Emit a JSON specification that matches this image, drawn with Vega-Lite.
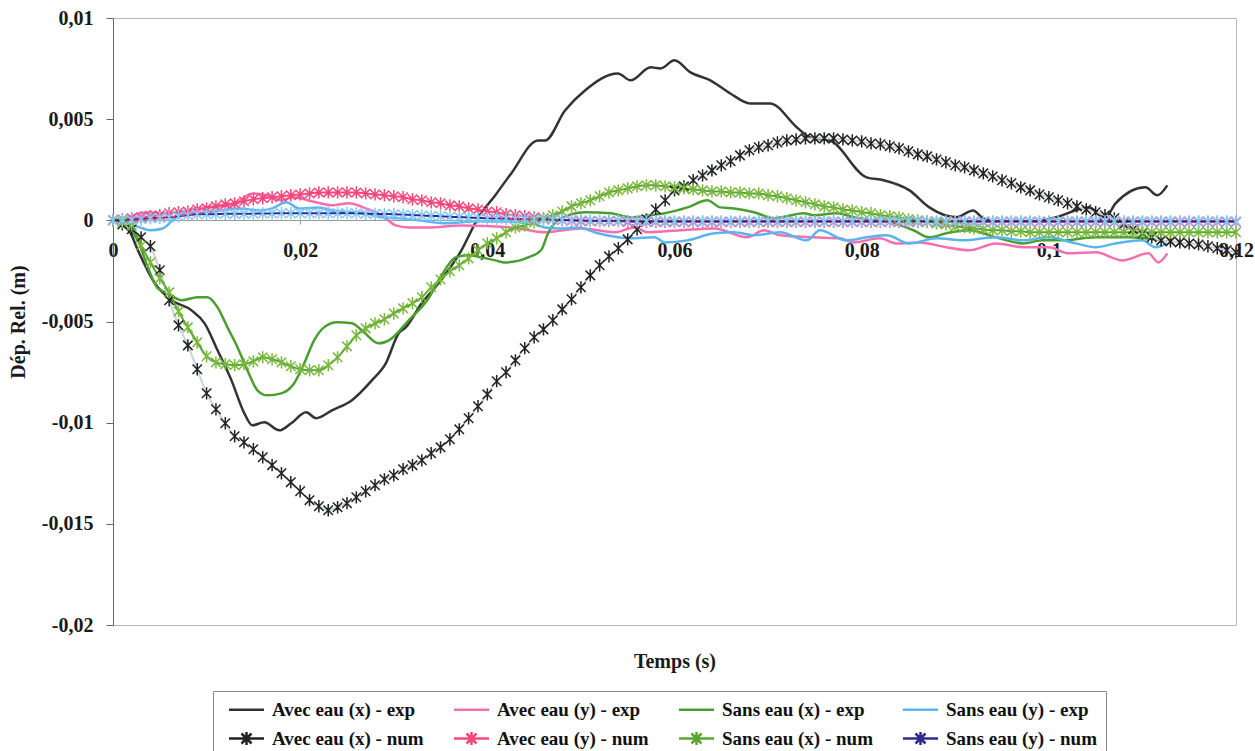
{
"$schema": "https://vega.github.io/schema/vega-lite/v6.json",
"width": 1123, "height": 607,
"autosize": {"type": "none"},
"padding": {"left": 113, "top": 18, "right": 19, "bottom": 126},
"background": "white",
"config": {
  "view": {"stroke": "#b8b8b8", "strokeWidth": 1},
  "axis": {"labelFont": "Liberation Serif", "labelFontSize": 20, "labelFontWeight": "bold", "labelColor": "#1a1a1a", "titleFont": "Liberation Serif", "titleFontSize": 20, "titleFontWeight": "bold", "titleColor": "#1a1a1a", "grid": false, "domainColor": "#777", "tickColor": "#777"}
},
"datasets": {
  "names": [
    {"code": "p", "series": "Avec eau (x) - exp"}, {"code": "q", "series": "Avec eau (y) - exp"},
    {"code": "r", "series": "Sans eau (x) - exp"}, {"code": "s", "series": "Sans eau (y) - exp"},
    {"code": "a", "series": "Avec eau (x) - num"}, {"code": "b", "series": "Avec eau (y) - num"},
    {"code": "c", "series": "Sans eau (x) - num"}, {"code": "d", "series": "Sans eau (y) - num"}
  ],
  "exp": [
    {"code":"p","t":0,"v":0},{"code":"p","t":0.00181,"v":-0.00059},{"code":"p","t":0.00266,"v":-0.00148},{"code":"p","t":0.00447,"v":-0.00311},{"code":"p","t":0.00628,"v":-0.00395},{"code":"p","t":0.0084,"v":-0.00445},{"code":"p","t":0.00979,"v":-0.00509},{"code":"p","t":0.01117,"v":-0.00642},{"code":"p","t":0.01266,"v":-0.00791},{"code":"p","t":0.01404,"v":-0.00954},{"code":"p","t":0.01489,"v":-0.01013},{"code":"p","t":0.01617,"v":-0.00998},{"code":"p","t":0.01777,"v":-0.01038},{"code":"p","t":0.01904,"v":-0.01003},{"code":"p","t":0.02064,"v":-0.00949},{"code":"p","t":0.0217,"v":-0.00978},{"code":"p","t":0.0234,"v":-0.00939},{"code":"p","t":0.02553,"v":-0.00889},{"code":"p","t":0.02766,"v":-0.00791},{"code":"p","t":0.02915,"v":-0.00707},{"code":"p","t":0.03053,"v":-0.00558},{"code":"p","t":0.03128,"v":-0.00529},{"code":"p","t":0.03298,"v":-0.0041},{"code":"p","t":0.03479,"v":-0.00311},{"code":"p","t":0.03723,"v":-0.00148},{"code":"p","t":0.03904,"v":0.00015},{"code":"p","t":0.04085,"v":0.00124},{"code":"p","t":0.04255,"v":0.00232},{"code":"p","t":0.04543,"v":0.00395},{"code":"p","t":0.04617,"v":0.00395},{"code":"p","t":0.0483,"v":0.00543},{"code":"p","t":0.05043,"v":0.00642},{"code":"p","t":0.05394,"v":0.00726},{"code":"p","t":0.05532,"v":0.00692},{"code":"p","t":0.05745,"v":0.00756},{"code":"p","t":0.05851,"v":0.00751},{"code":"p","t":0.06,"v":0.00791},{"code":"p","t":0.0617,"v":0.00731},{"code":"p","t":0.06383,"v":0.00692},{"code":"p","t":0.06596,"v":0.00627},{"code":"p","t":0.06809,"v":0.00578},{"code":"p","t":0.07021,"v":0.00578},{"code":"p","t":0.07309,"v":0.00459},{"code":"p","t":0.07447,"v":0.0041},{"code":"p","t":0.0766,"v":0.00395},{"code":"p","t":0.08053,"v":0.00212},{"code":"p","t":0.08234,"v":0.00198},{"code":"p","t":0.08511,"v":0.00148},{"code":"p","t":0.08723,"v":0.00064},{"code":"p","t":0.09011,"v":0.00015},{"code":"p","t":0.09191,"v":0.00049},{"code":"p","t":0.09298,"v":0.0001},{"code":"p","t":0.09436,"v":-0.00005},{"code":"p","t":0.09862,"v":-0.00005},{"code":"p","t":0.10074,"v":0.00015},{"code":"p","t":0.10426,"v":0.00064},{"code":"p","t":0.10606,"v":0.00015},{"code":"p","t":0.10713,"v":0.00084},{"code":"p","t":0.11032,"v":0.00163},{"code":"p","t":0.1116,"v":0.00124},{"code":"p","t":0.11266,"v":0.00173},
    {"code":"q","t":0,"v":0},{"code":"q","t":0.00128,"v":0.0001},{"code":"q","t":0.00287,"v":0.00035},{"code":"q","t":0.00394,"v":0.0004},{"code":"q","t":0.00574,"v":0.00035},{"code":"q","t":0.00787,"v":0.00049},{"code":"q","t":0.01,"v":0.00064},{"code":"q","t":0.01277,"v":0.00074},{"code":"q","t":0.01489,"v":0.00133},{"code":"q","t":0.01638,"v":0.00124},{"code":"q","t":0.01809,"v":0.00099},{"code":"q","t":0.01915,"v":0.00114},{"code":"q","t":0.0217,"v":0.00089},{"code":"q","t":0.0234,"v":0.00074},{"code":"q","t":0.02521,"v":0.00084},{"code":"q","t":0.02702,"v":0.00059},{"code":"q","t":0.02872,"v":0.00025},{"code":"q","t":0.03021,"v":-0.00025},{"code":"q","t":0.0316,"v":-0.00035},{"code":"q","t":0.03372,"v":-0.00035},{"code":"q","t":0.03723,"v":-0.00025},{"code":"q","t":0.04255,"v":-0.00035},{"code":"q","t":0.04617,"v":-0.00059},{"code":"q","t":0.05,"v":-0.0004},{"code":"q","t":0.05362,"v":-0.00059},{"code":"q","t":0.05574,"v":-0.00035},{"code":"q","t":0.05713,"v":-0.00059},{"code":"q","t":0.06064,"v":-0.00049},{"code":"q","t":0.06426,"v":-0.0004},{"code":"q","t":0.06777,"v":-0.00084},{"code":"q","t":0.06957,"v":-0.00049},{"code":"q","t":0.07128,"v":-0.00074},{"code":"q","t":0.07489,"v":-0.00084},{"code":"q","t":0.07766,"v":-0.00089},{"code":"q","t":0.07915,"v":-0.00109},{"code":"q","t":0.08191,"v":-0.00089},{"code":"q","t":0.08372,"v":-0.00114},{"code":"q","t":0.08617,"v":-0.00109},{"code":"q","t":0.08904,"v":-0.00133},{"code":"q","t":0.09149,"v":-0.00148},{"code":"q","t":0.09436,"v":-0.00114},{"code":"q","t":0.09723,"v":-0.00133},{"code":"q","t":0.1,"v":-0.00133},{"code":"q","t":0.10213,"v":-0.00163},{"code":"q","t":0.105,"v":-0.00158},{"code":"q","t":0.10787,"v":-0.00198},{"code":"q","t":0.11064,"v":-0.00163},{"code":"q","t":0.1117,"v":-0.00208},{"code":"q","t":0.11266,"v":-0.00163},
    {"code":"r","t":0,"v":0},{"code":"r","t":0.0016,"v":-0.0004},{"code":"r","t":0.00266,"v":-0.00099},{"code":"r","t":0.00372,"v":-0.00232},{"code":"r","t":0.00479,"v":-0.00336},{"code":"r","t":0.00585,"v":-0.0036},{"code":"r","t":0.00734,"v":-0.00395},{"code":"r","t":0.00904,"v":-0.0038},{"code":"r","t":0.0101,"v":-0.0038},{"code":"r","t":0.01117,"v":-0.0043},{"code":"r","t":0.01223,"v":-0.00529},{"code":"r","t":0.0133,"v":-0.00627},{"code":"r","t":0.01436,"v":-0.00741},{"code":"r","t":0.01543,"v":-0.0084},{"code":"r","t":0.01649,"v":-0.00865},{"code":"r","t":0.01798,"v":-0.00855},{"code":"r","t":0.01936,"v":-0.00805},{"code":"r","t":0.02043,"v":-0.00707},{"code":"r","t":0.02149,"v":-0.00593},{"code":"r","t":0.02255,"v":-0.00529},{"code":"r","t":0.02394,"v":-0.00504},{"code":"r","t":0.02553,"v":-0.00509},{"code":"r","t":0.02681,"v":-0.00553},{"code":"r","t":0.0284,"v":-0.00608},{"code":"r","t":0.02947,"v":-0.00593},{"code":"r","t":0.0316,"v":-0.00494},{"code":"r","t":0.03372,"v":-0.00385},{"code":"r","t":0.03511,"v":-0.00272},{"code":"r","t":0.0366,"v":-0.00183},{"code":"r","t":0.03798,"v":-0.00173},{"code":"r","t":0.03936,"v":-0.00183},{"code":"r","t":0.04085,"v":-0.00198},{"code":"r","t":0.04191,"v":-0.00208},{"code":"r","t":0.04436,"v":-0.00183},{"code":"r","t":0.04574,"v":-0.00148},{"code":"r","t":0.04649,"v":-0.00064},{"code":"r","t":0.04755,"v":0},{"code":"r","t":0.05043,"v":0.0004},{"code":"r","t":0.05319,"v":0.00035},{"code":"r","t":0.05532,"v":0.00015},{"code":"r","t":0.05745,"v":0.00025},{"code":"r","t":0.05894,"v":0.00035},{"code":"r","t":0.06138,"v":0.00064},{"code":"r","t":0.06351,"v":0.00099},{"code":"r","t":0.06489,"v":0.00064},{"code":"r","t":0.06638,"v":0.00059},{"code":"r","t":0.06851,"v":0.0004},{"code":"r","t":0.07064,"v":0.0001},{"code":"r","t":0.07383,"v":0.00035},{"code":"r","t":0.07489,"v":0.00025},{"code":"r","t":0.07734,"v":0.00035},{"code":"r","t":0.07915,"v":0.00015},{"code":"r","t":0.08128,"v":0},{"code":"r","t":0.0834,"v":-0.00015},{"code":"r","t":0.08553,"v":-0.00049},{"code":"r","t":0.08723,"v":-0.00084},{"code":"r","t":0.08904,"v":-0.00064},{"code":"r","t":0.09149,"v":-0.00049},{"code":"r","t":0.09436,"v":-0.00084},{"code":"r","t":0.09723,"v":-0.00114},{"code":"r","t":0.09936,"v":-0.00099},{"code":"r","t":0.10149,"v":-0.00099},{"code":"r","t":0.105,"v":-0.00084},{"code":"r","t":0.10851,"v":-0.00084},{"code":"r","t":0.11213,"v":-0.00099},
    {"code":"s","t":0,"v":0},{"code":"s","t":0.00149,"v":-0.00015},{"code":"s","t":0.00287,"v":-0.00035},{"code":"s","t":0.00394,"v":-0.00049},{"code":"s","t":0.00532,"v":-0.0004},{"code":"s","t":0.00638,"v":0},{"code":"s","t":0.00787,"v":0.00035},{"code":"s","t":0.00926,"v":0.00035},{"code":"s","t":0.01138,"v":0.00049},{"code":"s","t":0.01351,"v":0.00059},{"code":"s","t":0.01564,"v":0.00049},{"code":"s","t":0.01702,"v":0.00059},{"code":"s","t":0.01851,"v":0.00089},{"code":"s","t":0.01989,"v":0.00059},{"code":"s","t":0.02202,"v":0.00064},{"code":"s","t":0.0234,"v":0.00049},{"code":"s","t":0.02521,"v":0.0004},{"code":"s","t":0.02702,"v":0.00035},{"code":"s","t":0.02872,"v":0.00015},{"code":"s","t":0.03053,"v":0.0001},{"code":"s","t":0.03266,"v":0},{"code":"s","t":0.03553,"v":-0.00015},{"code":"s","t":0.03904,"v":-0.00005},{"code":"s","t":0.04436,"v":-0.0001},{"code":"s","t":0.04617,"v":-0.00035},{"code":"s","t":0.04787,"v":-0.0004},{"code":"s","t":0.04968,"v":-0.00035},{"code":"s","t":0.05181,"v":-0.00064},{"code":"s","t":0.05532,"v":-0.00089},{"code":"s","t":0.05787,"v":-0.00084},{"code":"s","t":0.05894,"v":-0.00109},{"code":"s","t":0.06138,"v":-0.00099},{"code":"s","t":0.06426,"v":-0.00064},{"code":"s","t":0.06638,"v":-0.00059},{"code":"s","t":0.06851,"v":-0.00074},{"code":"s","t":0.07128,"v":-0.00059},{"code":"s","t":0.07415,"v":-0.00099},{"code":"s","t":0.07553,"v":-0.00049},{"code":"s","t":0.0784,"v":-0.00099},{"code":"s","t":0.08053,"v":-0.00084},{"code":"s","t":0.08266,"v":-0.00074},{"code":"s","t":0.0851,"v":-0.00114},{"code":"s","t":0.08798,"v":-0.00089},{"code":"s","t":0.09085,"v":-0.00099},{"code":"s","t":0.09436,"v":-0.00084},{"code":"s","t":0.09723,"v":-0.00099},{"code":"s","t":0.1,"v":-0.00084},{"code":"s","t":0.10287,"v":-0.00114},{"code":"s","t":0.105,"v":-0.00133},{"code":"s","t":0.10713,"v":-0.00114},{"code":"s","t":0.11,"v":-0.00099},{"code":"s","t":0.11138,"v":-0.00133},{"code":"s","t":0.11266,"v":-0.00114}
  ],
  "num": [
    {"t":0,"a":0,"b":0,"c":0,"d":0},
    {"t":0.001,"a":-0.0002,"b":0.00005,"c":-0.0001,"d":0.00001},
    {"t":0.002,"a":-0.00044,"b":0.0001,"c":-0.00025,"d":0.00002},
    {"t":0.003,"a":-0.00084,"b":0.00015,"c":-0.00124,"d":0.00005},
    {"t":0.004,"a":-0.00128,"b":0.0002,"c":-0.00208,"d":0.0001},
    {"t":0.005,"a":-0.00247,"b":0.00025,"c":-0.00287,"d":0.00012},
    {"t":0.006,"a":-0.00395,"b":0.00035,"c":-0.00356,"d":0.00015},
    {"t":0.007,"a":-0.00519,"b":0.0004,"c":-0.0045,"d":0.0002},
    {"t":0.008,"a":-0.00618,"b":0.00044,"c":-0.00529,"d":0.00025},
    {"t":0.009,"a":-0.00736,"b":0.00054,"c":-0.00603,"d":0.0003},
    {"t":0.01,"a":-0.00855,"b":0.00059,"c":-0.00672,"d":0.0003},
    {"t":0.011,"a":-0.00934,"b":0.00069,"c":-0.00702,"d":0.00031},
    {"t":0.012,"a":-0.01003,"b":0.00079,"c":-0.00711,"d":0.00032},
    {"t":0.013,"a":-0.01067,"b":0.00084,"c":-0.00716,"d":0.00032},
    {"t":0.014,"a":-0.01097,"b":0.00094,"c":-0.00711,"d":0.00033},
    {"t":0.015,"a":-0.01131,"b":0.00104,"c":-0.00697,"d":0.00033},
    {"t":0.016,"a":-0.01171,"b":0.00109,"c":-0.00677,"d":0.00034},
    {"t":0.017,"a":-0.0121,"b":0.00114,"c":-0.00687,"d":0.00034},
    {"t":0.018,"a":-0.0125,"b":0.00119,"c":-0.00702,"d":0.00035},
    {"t":0.019,"a":-0.01294,"b":0.00124,"c":-0.00721,"d":0.00035},
    {"t":0.02,"a":-0.01339,"b":0.00128,"c":-0.00736,"d":0.00035},
    {"t":0.021,"a":-0.01383,"b":0.00133,"c":-0.00741,"d":0.00035},
    {"t":0.022,"a":-0.01413,"b":0.00138,"c":-0.00741,"d":0.00035},
    {"t":0.023,"a":-0.01433,"b":0.00138,"c":-0.00716,"d":0.00035},
    {"t":0.024,"a":-0.01418,"b":0.00138,"c":-0.00677,"d":0.00035},
    {"t":0.025,"a":-0.01398,"b":0.00138,"c":-0.00623,"d":0.00035},
    {"t":0.026,"a":-0.01369,"b":0.00138,"c":-0.00568,"d":0.00034},
    {"t":0.027,"a":-0.01339,"b":0.00133,"c":-0.00534,"d":0.00033},
    {"t":0.028,"a":-0.01309,"b":0.00128,"c":-0.00509,"d":0.00032},
    {"t":0.029,"a":-0.0128,"b":0.00124,"c":-0.00489,"d":0.00031},
    {"t":0.03,"a":-0.0126,"b":0.00119,"c":-0.0046,"d":0.0003},
    {"t":0.031,"a":-0.0123,"b":0.00114,"c":-0.00435,"d":0.00028},
    {"t":0.032,"a":-0.0121,"b":0.00104,"c":-0.0041,"d":0.00026},
    {"t":0.033,"a":-0.01186,"b":0.00099,"c":-0.0038,"d":0.00024},
    {"t":0.034,"a":-0.01151,"b":0.00089,"c":-0.00331,"d":0.00022},
    {"t":0.035,"a":-0.01122,"b":0.00084,"c":-0.00292,"d":0.0002},
    {"t":0.036,"a":-0.01082,"b":0.00074,"c":-0.00252,"d":0.00018},
    {"t":0.037,"a":-0.01033,"b":0.00069,"c":-0.00222,"d":0.00016},
    {"t":0.038,"a":-0.00978,"b":0.00059,"c":-0.00188,"d":0.00014},
    {"t":0.039,"a":-0.00919,"b":0.00054,"c":-0.00148,"d":0.00012},
    {"t":0.04,"a":-0.0086,"b":0.00044,"c":-0.00114,"d":0.0001},
    {"t":0.041,"a":-0.00795,"b":0.0004,"c":-0.00089,"d":0.00009},
    {"t":0.042,"a":-0.00751,"b":0.0003,"c":-0.00059,"d":0.00008},
    {"t":0.043,"a":-0.00692,"b":0.00025,"c":-0.00035,"d":0.00007},
    {"t":0.044,"a":-0.00632,"b":0.0002,"c":-0.00025,"d":0.00006},
    {"t":0.045,"a":-0.00578,"b":0.00015,"c":-0.0001,"d":0.00005},
    {"t":0.046,"a":-0.00539,"b":0.0001,"c":0.0001,"d":0.00004},
    {"t":0.047,"a":-0.00494,"b":0.00005,"c":0.00025,"d":0.00003},
    {"t":0.048,"a":-0.0044,"b":0,"c":0.00044,"d":0.00002},
    {"t":0.049,"a":-0.0039,"b":-0.00002,"c":0.00069,"d":0.00001},
    {"t":0.05,"a":-0.00331,"b":-0.00004,"c":0.00084,"d":0},
    {"t":0.051,"a":-0.00272,"b":-0.00004,"c":0.00099,"d":-0.00002},
    {"t":0.052,"a":-0.00222,"b":-0.00004,"c":0.00119,"d":-0.00002},
    {"t":0.053,"a":-0.00178,"b":-0.00004,"c":0.00138,"d":-0.00002},
    {"t":0.054,"a":-0.00138,"b":-0.00004,"c":0.00148,"d":-0.00002},
    {"t":0.055,"a":-0.00094,"b":-0.00008,"c":0.00158,"d":-0.00002},
    {"t":0.056,"a":-0.00044,"b":-0.00008,"c":0.00168,"d":-0.00004},
    {"t":0.057,"a":0.00005,"b":-0.00008,"c":0.00173,"d":-0.00004},
    {"t":0.058,"a":0.00054,"b":-0.00008,"c":0.00173,"d":-0.00004},
    {"t":0.059,"a":0.00099,"b":-0.00008,"c":0.00168,"d":-0.00004},
    {"t":0.06,"a":0.00148,"b":-0.00008,"c":0.00163,"d":-0.00005},
    {"t":0.061,"a":0.00168,"b":-0.00008,"c":0.00158,"d":-0.00005},
    {"t":0.062,"a":0.00198,"b":-0.00008,"c":0.00153,"d":-0.00005},
    {"t":0.063,"a":0.00222,"b":-0.00008,"c":0.00148,"d":-0.00005},
    {"t":0.064,"a":0.00247,"b":-0.00008,"c":0.00143,"d":-0.00005},
    {"t":0.065,"a":0.00272,"b":-0.00008,"c":0.00143,"d":-0.00005},
    {"t":0.066,"a":0.00292,"b":-0.00008,"c":0.00138,"d":-0.00005},
    {"t":0.067,"a":0.00321,"b":-0.00008,"c":0.00138,"d":-0.00005},
    {"t":0.068,"a":0.00346,"b":-0.00008,"c":0.00133,"d":-0.00005},
    {"t":0.069,"a":0.00361,"b":-0.00008,"c":0.00133,"d":-0.00005},
    {"t":0.07,"a":0.00371,"b":-0.00008,"c":0.00124,"d":-0.00005},
    {"t":0.071,"a":0.00385,"b":-0.00008,"c":0.00119,"d":-0.00005},
    {"t":0.072,"a":0.00395,"b":-0.00008,"c":0.00109,"d":-0.00005},
    {"t":0.073,"a":0.004,"b":-0.00008,"c":0.00099,"d":-0.00005},
    {"t":0.074,"a":0.00405,"b":-0.00008,"c":0.00089,"d":-0.00005},
    {"t":0.075,"a":0.00405,"b":-0.00008,"c":0.00079,"d":-0.00005},
    {"t":0.076,"a":0.00405,"b":-0.00008,"c":0.00069,"d":-0.00005},
    {"t":0.077,"a":0.00405,"b":-0.00008,"c":0.00064,"d":-0.00005},
    {"t":0.078,"a":0.004,"b":-0.00008,"c":0.00054,"d":-0.00005},
    {"t":0.079,"a":0.00395,"b":-0.00008,"c":0.00049,"d":-0.00005},
    {"t":0.08,"a":0.0039,"b":-0.00008,"c":0.0004,"d":-0.00005},
    {"t":0.081,"a":0.0038,"b":-0.00008,"c":0.00035,"d":-0.00005},
    {"t":0.082,"a":0.00376,"b":-0.00008,"c":0.00025,"d":-0.00005},
    {"t":0.083,"a":0.00366,"b":-0.00008,"c":0.0002,"d":-0.00005},
    {"t":0.084,"a":0.00356,"b":-0.00008,"c":0.00015,"d":-0.00005},
    {"t":0.085,"a":0.00341,"b":-0.00008,"c":0.00005,"d":-0.00005},
    {"t":0.086,"a":0.00326,"b":-0.00008,"c":0,"d":-0.00005},
    {"t":0.087,"a":0.00316,"b":-0.00008,"c":-0.00005,"d":-0.00005},
    {"t":0.088,"a":0.00301,"b":-0.00008,"c":-0.00015,"d":-0.00005},
    {"t":0.089,"a":0.00287,"b":-0.00008,"c":-0.0002,"d":-0.00005},
    {"t":0.09,"a":0.00272,"b":-0.00008,"c":-0.0003,"d":-0.00005},
    {"t":0.091,"a":0.00262,"b":-0.00008,"c":-0.00035,"d":-0.00005},
    {"t":0.092,"a":0.00247,"b":-0.00008,"c":-0.0004,"d":-0.00005},
    {"t":0.093,"a":0.00232,"b":-0.00008,"c":-0.00044,"d":-0.00005},
    {"t":0.094,"a":0.00217,"b":-0.00008,"c":-0.00049,"d":-0.00005},
    {"t":0.095,"a":0.00198,"b":-0.00008,"c":-0.00049,"d":-0.00005},
    {"t":0.096,"a":0.00183,"b":-0.00008,"c":-0.00054,"d":-0.00005},
    {"t":0.097,"a":0.00163,"b":-0.00008,"c":-0.00054,"d":-0.00005},
    {"t":0.098,"a":0.00148,"b":-0.00008,"c":-0.00059,"d":-0.00005},
    {"t":0.099,"a":0.00128,"b":-0.00008,"c":-0.00059,"d":-0.00005},
    {"t":0.1,"a":0.00114,"b":-0.00008,"c":-0.00059,"d":-0.00005},
    {"t":0.101,"a":0.00099,"b":-0.00008,"c":-0.00059,"d":-0.00005},
    {"t":0.102,"a":0.00084,"b":-0.00008,"c":-0.00059,"d":-0.00005},
    {"t":0.103,"a":0.00069,"b":-0.00008,"c":-0.00059,"d":-0.00005},
    {"t":0.104,"a":0.00054,"b":-0.00008,"c":-0.00059,"d":-0.00005},
    {"t":0.105,"a":0.0004,"b":-0.00008,"c":-0.00059,"d":-0.00005},
    {"t":0.106,"a":0.00025,"b":-0.00008,"c":-0.00059,"d":-0.00005},
    {"t":0.107,"a":0.0001,"b":-0.00008,"c":-0.00059,"d":-0.00005},
    {"t":0.108,"a":-0.0002,"b":-0.00008,"c":-0.00059,"d":-0.00005},
    {"t":0.109,"a":-0.00044,"b":-0.00008,"c":-0.00059,"d":-0.00005},
    {"t":0.11,"a":-0.00064,"b":-0.00008,"c":-0.00059,"d":-0.00005},
    {"t":0.111,"a":-0.00084,"b":-0.00008,"c":-0.00059,"d":-0.00005},
    {"t":0.112,"a":-0.00099,"b":-0.00008,"c":-0.00059,"d":-0.00005},
    {"t":0.113,"a":-0.00104,"b":-0.00008,"c":-0.00059,"d":-0.00005},
    {"t":0.114,"a":-0.00109,"b":-0.00008,"c":-0.00059,"d":-0.00005},
    {"t":0.115,"a":-0.00114,"b":-0.00008,"c":-0.00059,"d":-0.00005},
    {"t":0.116,"a":-0.00119,"b":-0.00008,"c":-0.00059,"d":-0.00005},
    {"t":0.117,"a":-0.00128,"b":-0.00008,"c":-0.00059,"d":-0.00005},
    {"t":0.118,"a":-0.00138,"b":-0.00008,"c":-0.00059,"d":-0.00005},
    {"t":0.119,"a":-0.00148,"b":-0.00008,"c":-0.00059,"d":-0.00005},
    {"t":0.12,"a":-0.00158,"b":-0.00008,"c":-0.00059,"d":-0.00005}
  ]
},
"encoding": {
  "x": {"field": "t", "type": "quantitative", "scale": {"domain": [0, 0.12], "nice": false, "zero": false},
        "axis": {"values": [0, 0.02, 0.04, 0.06, 0.08, 0.1, 0.12], "offset": -405, "labelExpr": "replace(format(datum.value, '~g'), '.', ',')", "labelFlush": false, "labelOverlap": false, "labelPadding": 16, "tickSize": 4, "domainColor": "#9a9a9a", "tickColor": "#9a9a9a", "title": "Temps (s)", "titleY": 441, "titleBaseline": "middle"}},
  "y": {"field": "v", "type": "quantitative", "scale": {"domain": [-0.02, 0.01], "nice": false, "zero": false},
        "axis": {"values": [-0.02, -0.015, -0.01, -0.005, 0, 0.005, 0.01], "labelExpr": "replace(replace(format(datum.value, '~g'), '.', ','), '\u2212', '-')", "labelFlush": false, "labelPadding": 13, "tickSize": 7, "domainColor": "#666", "tickColor": "#666", "title": "Dép. Rel. (m)", "titleX": -95, "titleY": 303.5, "titleAngle": 270, "titleAlign": "center", "titleBaseline": "middle"}}
},
"layer": [
  {
    "data": {"name": "exp"},
    "transform": [{"lookup": "code", "from": {"data": {"name": "names"}, "key": "code", "fields": ["series"]}}],
    "mark": {"type": "line", "strokeWidth": 2.5, "interpolate": "monotone"},
    "encoding": {
      "color": {"field": "series", "type": "nominal",
        "scale": {"domain": ["Avec eau (x) - exp", "Avec eau (y) - exp", "Sans eau (x) - exp", "Sans eau (y) - exp", "Avec eau (x) - num", "Avec eau (y) - num", "Sans eau (x) - num", "Sans eau (y) - num"],
                  "range": ["#333333", "#f46fb0", "#4a9e2f", "#5ab4ee", "#222222", "#f8457a", "#5aa532", "#2b2b8f"]},
        "legend": {"title": null, "orient": "none", "legendX": 100, "legendY": 673, "columns": 4, "direction": "horizontal", "strokeColor": "#8a8a8a", "fillColor": "white", "padding": 9, "symbolSize": 100, "symbolStrokeWidth": 2.5, "labelFont": "Liberation Serif", "labelFontWeight": "bold", "labelFontSize": 19, "labelColor": "#111", "labelOffset": 31, "columnPadding": 23, "rowPadding": 7, "labelLimit": 400}}
    }
  },
  {
    "data": {"name": "num"},
    "transform": [{"fold": ["a", "b", "c", "d"], "as": ["code", "v"]}, {"lookup": "code", "from": {"data": {"name": "names"}, "key": "code", "fields": ["series"]}}],
    "mark": {"type": "line", "strokeWidth": 2, "interpolate": "monotone"},
    "encoding": {
      "stroke": {"field": "series", "type": "nominal", "legend": null,
        "scale": {"domain": ["Avec eau (x) - num", "Avec eau (y) - num", "Sans eau (x) - num", "Sans eau (y) - num"], "range": ["#c5d3dc", "#f8457a", "#5aa532", "#2b2b8f"]}}
    }
  },
  {
    "data": {"name": "num"},
    "transform": [{"fold": ["a", "b", "c", "d"], "as": ["code", "v"]}, {"lookup": "code", "from": {"data": {"name": "names"}, "key": "code", "fields": ["series"]}}],
    "mark": {"type": "point", "shape": "M-1,-1L1,1M-1,1L1,-1M0,-1.3V1.3", "size": 90, "filled": false, "strokeWidth": 1.5, "opacity": 1},
    "encoding": {
      "stroke": {"field": "series", "type": "nominal", "legend": null,
        "scale": {"domain": ["Avec eau (x) - num", "Avec eau (y) - num", "Sans eau (x) - num", "Sans eau (y) - num"], "range": ["#222222", "#f8457a", "#78b83a", "#84c8f5"]}}
    }
  },
  {
    "data": {"name": "names"},
    "transform": [{"filter": "false"}],
    "mark": {"type": "point", "filled": false, "strokeWidth": 2.5, "opacity": 1},
    "encoding": {
      "color": {"field": "series", "type": "nominal",
        "scale": {"domain": ["Avec eau (x) - exp", "Avec eau (y) - exp", "Sans eau (x) - exp", "Sans eau (y) - exp", "Avec eau (x) - num", "Avec eau (y) - num", "Sans eau (x) - num", "Sans eau (y) - num"],
                  "range": ["#333333", "#f46fb0", "#4a9e2f", "#5ab4ee", "#222222", "#f8457a", "#5aa532", "#2b2b8f"]}},
      "shape": {"field": "series", "type": "nominal",
        "scale": {"domain": ["Avec eau (x) - exp", "Avec eau (y) - exp", "Sans eau (x) - exp", "Sans eau (y) - exp", "Avec eau (x) - num", "Avec eau (y) - num", "Sans eau (x) - num", "Sans eau (y) - num"],
                  "range": ["M-0.5,0H6.5", "M-0.5,0H6.5", "M-0.5,0H6.5", "M-0.5,0H6.5", "M-0.5,0H6.5M2,-1L4,1M2,1L4,-1M3,-1.3V1.3", "M-0.5,0H6.5M2,-1L4,1M2,1L4,-1M3,-1.3V1.3", "M-0.5,0H6.5M2,-1L4,1M2,1L4,-1M3,-1.3V1.3", "M-0.5,0H6.5M2,-1L4,1M2,1L4,-1M3,-1.3V1.3"]},
        "legend": {"title": null, "orient": "none", "legendX": 100, "legendY": 673, "columns": 4, "direction": "horizontal", "strokeColor": "#8a8a8a", "fillColor": "white", "padding": 9, "symbolSize": 100, "symbolStrokeWidth": 2.5, "labelFont": "Liberation Serif", "labelFontWeight": "bold", "labelFontSize": 19, "labelColor": "#111", "labelOffset": 31, "columnPadding": 23, "rowPadding": 7, "labelLimit": 400}}
    }
  }
],
"resolve": {"scale": {"stroke": "independent"}}
}
